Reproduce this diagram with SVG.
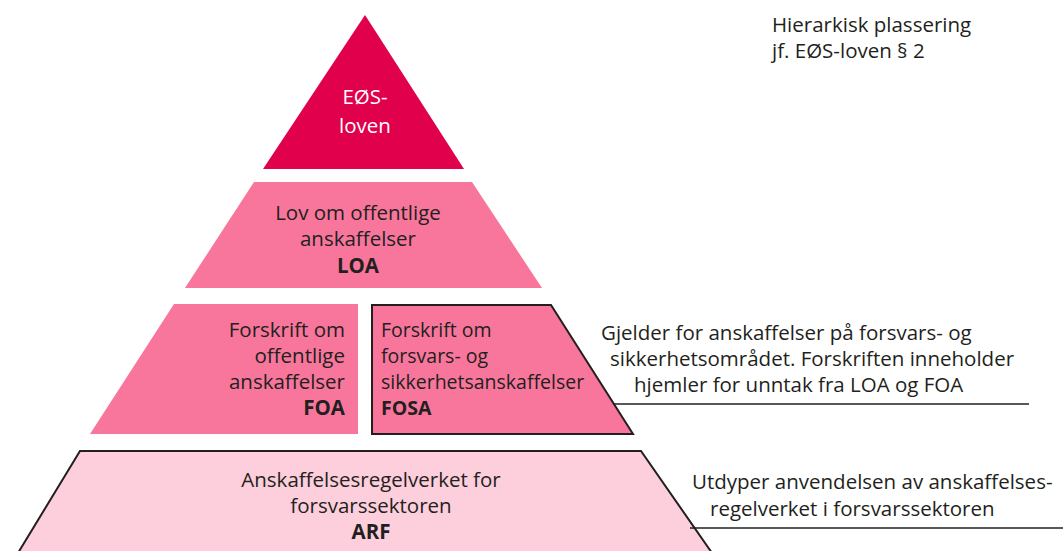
<svg xmlns="http://www.w3.org/2000/svg" width="1063" height="551" viewBox="0 0 1063 551">
<style>
text{font-family:"Open Sans","Noto Sans","Liberation Sans",sans-serif;font-size:20.5px;fill:#231f20}
.w{fill:#ffffff}
.b{font-weight:bold}
.m{text-anchor:middle}
.e{text-anchor:end}
.s{font-size:19.5px}
.mid{fill:#f8769c}
.conn{stroke:#231f20;stroke-width:1.6;fill:none}
</style>
<rect width="1063" height="551" fill="#ffffff"/>
<g id="eos">
<polygon points="365,15 464,169 263,169" fill="#e0004b"/>
<text class="w m" x="365" y="104">EØS-</text>
<text class="w m" x="365" y="133">loven</text>
</g>
<g id="loa">
<polygon class="mid" points="254,182 472,182 542,288 185,288"/>
<text class="m" x="358" y="220">Lov om offentlige</text>
<text class="m" x="358" y="246">anskaffelser</text>
<text class="m b" x="358" y="273">LOA</text>
</g>
<g id="foa">
<polygon class="mid" points="174,304 358,304 358,434 90,434"/>
<text class="e" x="345" y="337">Forskrift om</text>
<text class="e" x="345" y="363">offentlige</text>
<text class="e" x="345" y="389">anskaffelser</text>
<text class="e b" x="345" y="415">FOA</text>
</g>
<g id="fosa">
<polygon class="mid" points="372,305 551,305 633,434 372,434" stroke="#231f20" stroke-width="2"/>
<text class="s" x="381" y="337">Forskrift om</text>
<text class="s" x="381" y="363">forsvars- og</text>
<text class="s" x="381" y="389">sikkerhetsanskaffelser</text>
<text class="s b" x="381" y="415">FOSA</text>
</g>
<g id="arf">
<polygon points="80,451 641,451 712,553 18,553" fill="#fdcedc" stroke="#231f20" stroke-width="2"/>
<text class="m" x="371" y="487">Anskaffelsesregelverket for</text>
<text class="m" x="371" y="513">forsvarssektoren</text>
<text class="m b" x="371" y="539">ARF</text>
</g>
<g id="connectors">
<line class="conn" x1="613" y1="404" x2="1029" y2="404"/>
<line class="conn" x1="690" y1="528" x2="1063" y2="528"/>
</g>
<g id="note-fosa">
<text x="601" y="340">Gjelder for anskaffelser på forsvars- og</text>
<text x="610" y="366">sikkerhetsområdet. Forskriften inneholder</text>
<text x="634" y="392">hjemler for unntak fra LOA og FOA</text>
</g>
<g id="note-arf">
<text x="692" y="489">Utdyper anvendelsen av anskaffelses-</text>
<text x="710" y="516">regelverket i forsvarssektoren</text>
</g>
<g id="title">
<text x="772" y="32">Hierarkisk plassering</text>
<text x="772" y="58">jf. EØS-loven § 2</text>
</g>
</svg>
